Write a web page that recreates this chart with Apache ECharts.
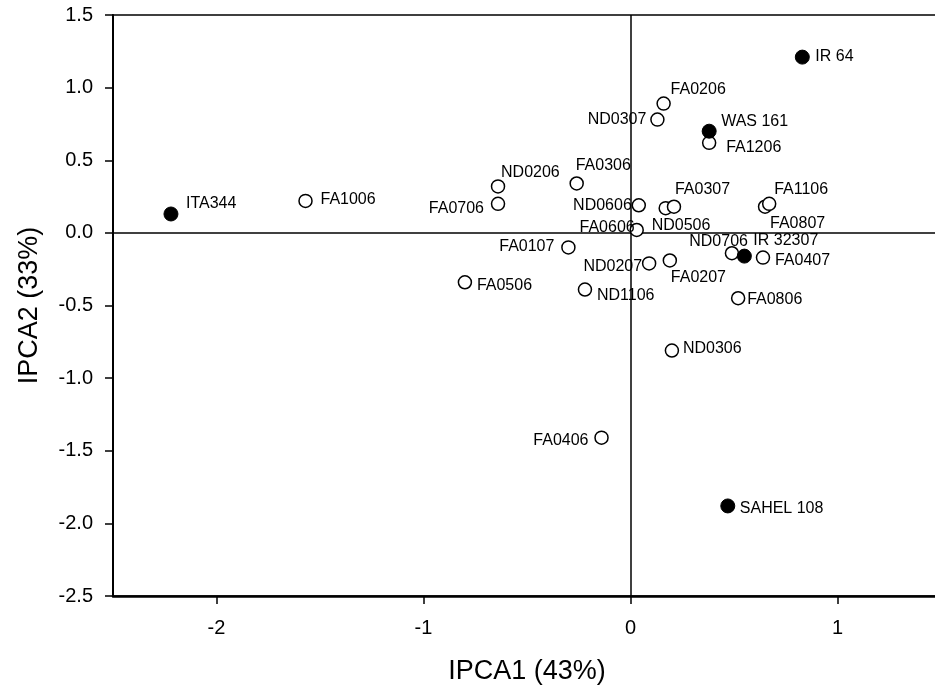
<!DOCTYPE html>
<html>
<head>
<meta charset="utf-8">
<script src="https://cdn.jsdelivr.net/npm/echarts@6/dist/echarts.min.js"></script>
<style>
  html, body { margin: 0; padding: 0; background: #fff; overflow: hidden; }
  #chart { width: 935px; height: 690px; }
</style>
</head>
<body>
<div id="chart"></div>
<script>
// check varieties (filled dots)
const checkNames = ['ITA344', 'IR 64', 'WAS 161', 'IR 32307', 'SAHEL 108'];
const checkX = [-2.22, 0.83, 0.38, 0.55, 0.47];
const checkY = [0.13, 1.21, 0.70, -0.16, -1.88];

// lines (open circles)
const lineNames = ['FA1006', 'FA0706', 'ND0206', 'FA0506', 'FA0306', 'ND0606', 'FA0606', 'ND0506',
  'FA0307', 'FA0107', 'ND0207', 'FA0207', 'ND1106', 'FA0206', 'ND0307', 'FA1206', 'FA0807',
  'FA1106', 'ND0706', 'FA0407', 'FA0806', 'ND0306', 'FA0406'];
const lineX = [-1.57, -0.64, -0.64, -0.80, -0.26, 0.04, 0.03, 0.17, 0.21, -0.30, 0.09, 0.19,
  -0.22, 0.16, 0.13, 0.38, 0.65, 0.67, 0.49, 0.64, 0.52, 0.20, -0.14];
const lineY = [0.22, 0.20, 0.32, -0.34, 0.34, 0.19, 0.02, 0.17, 0.18, -0.10, -0.21, -0.19,
  -0.39, 0.89, 0.78, 0.62, 0.18, 0.20, -0.14, -0.17, -0.45, -0.81, -1.41];

const xTicks = [-2, -1, 0, 1];
const xTitle = 'IPCA1 (43%)';
const yTitle = 'IPCA2 (33%)';

// where each name sits next to its point: [align, dx, dy]
const labelPlace = {
  'ITA344': ['left', 15, -10], 'IR 64': ['left', 13, -1], 'WAS 161': ['left', 12, -10],
  'IR 32307': ['left', 9, -16], 'SAHEL 108': ['left', 12, 3],
  'FA1006': ['left', 15, -1], 'FA0706': ['right', -14, 5], 'ND0206': ['left', 3, -14],
  'FA0506': ['left', 12, 3], 'FA0306': ['left', -1, -18], 'ND0606': ['right', -7, 0],
  'FA0606': ['right', -2, -2], 'ND0506': ['left', -14, 17], 'FA0307': ['left', 1, -17],
  'FA0107': ['right', -14, -1], 'ND0207': ['right', -7, 3], 'FA0207': ['left', 1, 17],
  'ND1106': ['left', 12, 6], 'FA0206': ['left', 7, -14], 'ND0307': ['right', -11, 0],
  'FA1206': ['left', 17, 5], 'FA0807': ['left', 5, 17], 'FA1106': ['left', 5, -14],
  'ND0706': ['right', 16, -12], 'FA0407': ['left', 12, 3], 'FA0806': ['left', 9, 1],
  'ND0306': ['left', 11, -2], 'FA0406': ['right', -13, 3]
};

const FONT = '"Liberation Sans", Arial, sans-serif';

function buildData(names, xs, ys) {
  return names.map((n, i) => {
    const p = labelPlace[n] || ['left', 10, 0];
    return {
      name: n,
      value: [xs[i], ys[i]],
      label: {
        show: true,
        position: 'inside',
        align: p[0],
        verticalAlign: 'middle',
        offset: [p[1], p[2]],
        formatter: '{b}',
        color: '#000',
        fontSize: 16,
        fontFamily: FONT
      }
    };
  });
}

const chart = echarts.init(document.getElementById('chart'));

const option = {
  animation: false,
  backgroundColor: '#fff',
  grid: {
    // plot runs a little past the right edge of the picture, as in the original
    left: 113, top: 15, right: -6, bottom: 94,
    outerBoundsMode: 'none',
    containLabel: false,
    show: true, borderColor: '#000', borderWidth: 1.5, backgroundColor: 'transparent'
  },
  xAxis: {
    type: 'value',
    min: -2.5, max: 1.5, interval: 0.5,
    name: xTitle, nameLocation: 'middle', nameGap: 62,
    nameTextStyle: { fontSize: 27, color: '#000', fontFamily: FONT },
    axisLine: { show: true, onZero: false, lineStyle: { color: '#000', width: 2.5 } },
    axisTick: { show: true, inside: false, length: 8, customValues: xTicks, lineStyle: { color: '#000', width: 1.5 } },
    axisLabel: { customValues: xTicks, margin: 22, fontSize: 20, color: '#000', fontFamily: FONT },
    splitLine: { show: false }
  },
  yAxis: {
    type: 'value',
    min: -2.5, max: 1.5, interval: 0.5,
    name: yTitle, nameLocation: 'middle', nameGap: 70,
    nameTextStyle: { fontSize: 27, color: '#000', fontFamily: FONT },
    axisLine: { show: true, onZero: false, lineStyle: { color: '#000', width: 2 } },
    axisTick: { show: true, inside: false, length: 8, lineStyle: { color: '#000', width: 1.5 } },
    axisLabel: { margin: 20, fontSize: 20, color: '#000', fontFamily: FONT,
      formatter: v => v.toFixed(1) },
    splitLine: { show: false }
  },
  series: [
    {
      type: 'scatter',
      name: 'lines',
      symbol: 'circle',
      symbolSize: 13,
      itemStyle: { color: '#fff', borderColor: '#000', borderWidth: 1.5, opacity: 1 },
      data: buildData(lineNames, lineX, lineY),
      z: 3,
      markLine: {
        silent: true,
        symbol: 'none',
        label: { show: false },
        lineStyle: { color: '#000', width: 1.5, type: 'solid' },
        data: [{ xAxis: 0 }, { yAxis: 0 }],
        z: 1
      }
    },
    {
      type: 'scatter',
      name: 'checks',
      symbol: 'circle',
      symbolSize: 14,
      itemStyle: { color: '#000', borderColor: '#000', borderWidth: 1, opacity: 1 },
      data: buildData(checkNames, checkX, checkY),
      z: 4
    }
  ]
};

chart.setOption(option);
window.addEventListener('resize', () => chart.resize());
</script>
</body>
</html>
